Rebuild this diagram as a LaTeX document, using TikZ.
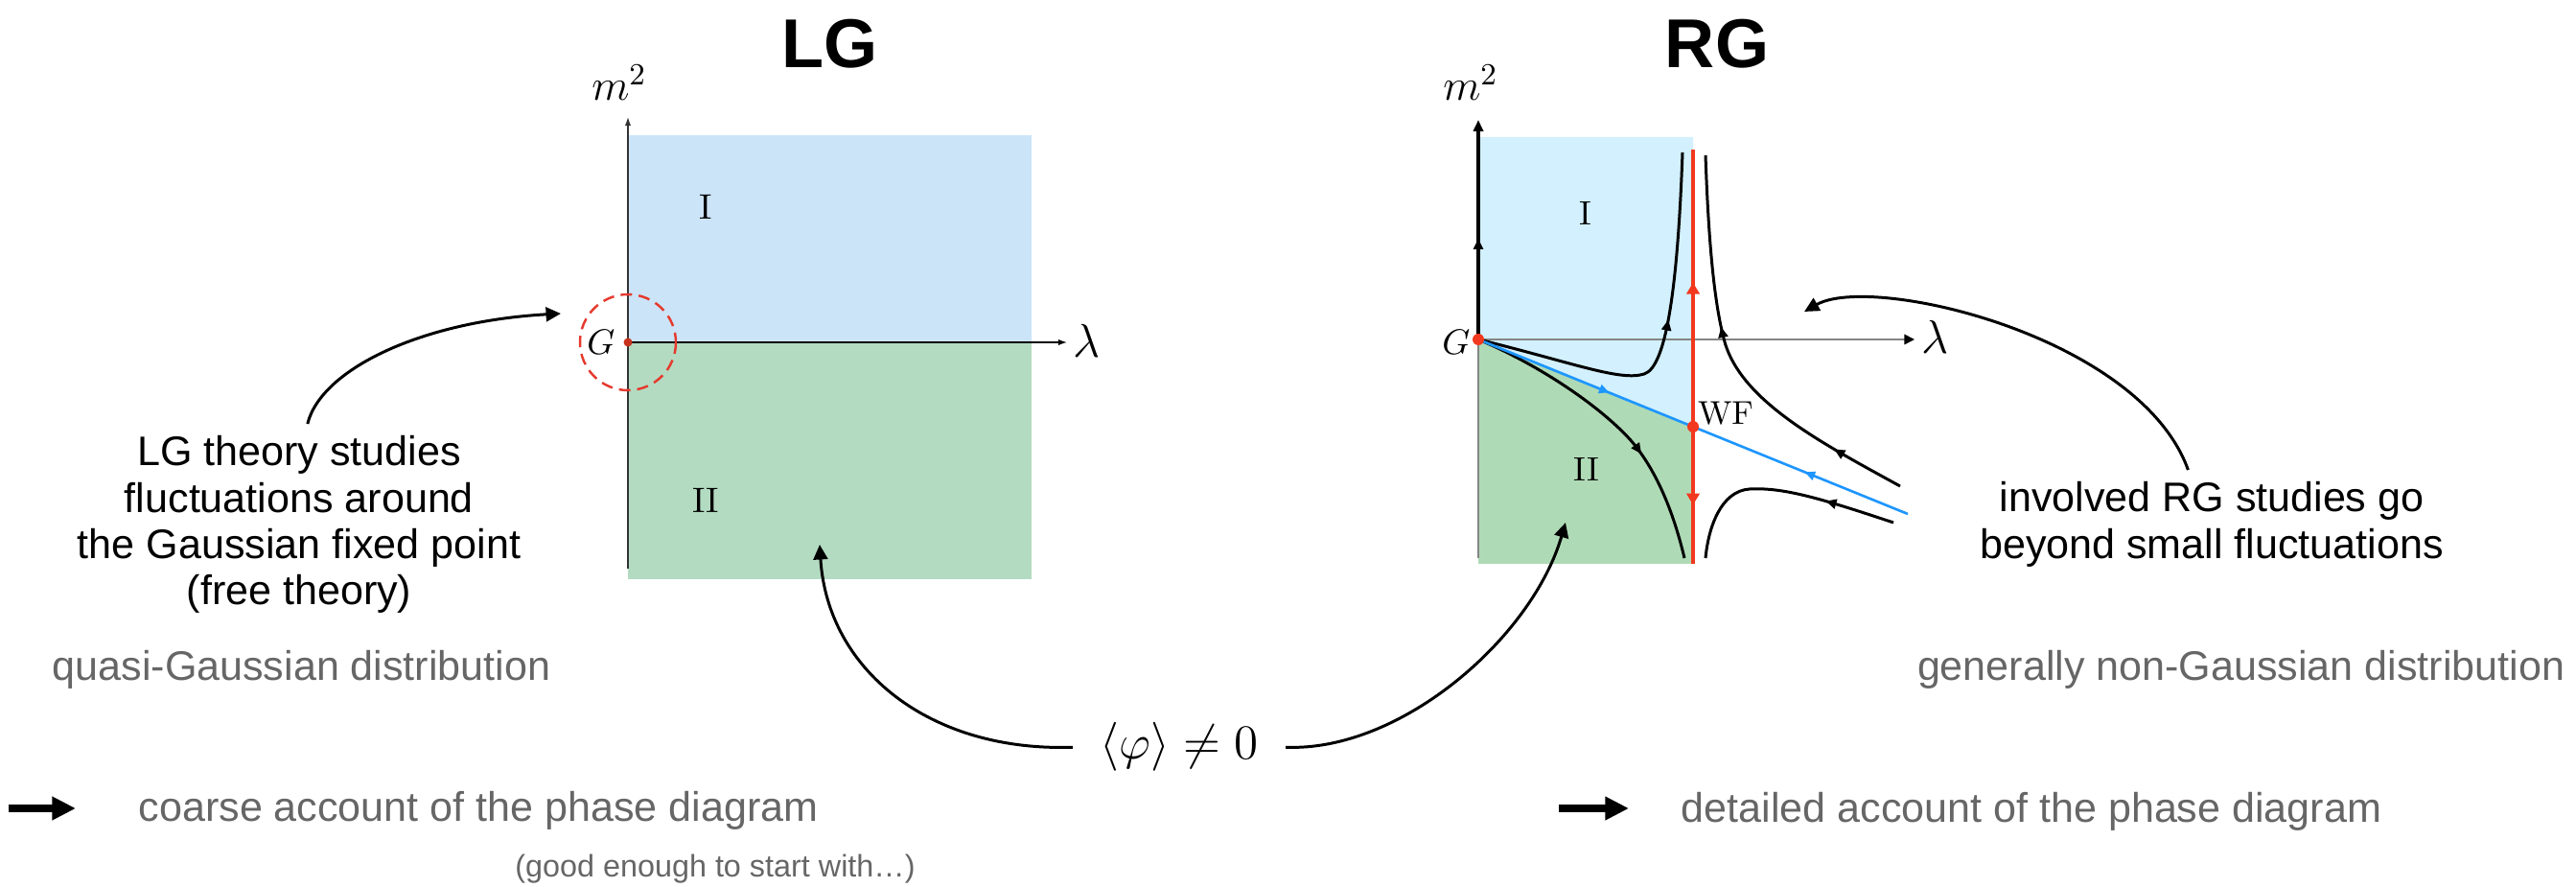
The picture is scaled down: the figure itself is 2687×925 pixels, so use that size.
\documentclass[tikz,border=0pt]{standalone}
\usepackage{fix-cm}
\usepackage{fontspec}
\newfontfamily\helv{Liberation Sans}
\usetikzlibrary{arrows.meta,decorations.markings}

\definecolor{lgblue}{HTML}{CCE4F8}
\definecolor{lggreen}{HTML}{B3DBC1}
\definecolor{rgblue}{HTML}{D2F0FD}
\definecolor{rggreen}{HTML}{AFDAB6}
\definecolor{flowred}{HTML}{F2381E}
\definecolor{dotred}{HTML}{C8321E}
\definecolor{circred}{HTML}{E53A2E}
\definecolor{sepblue}{HTML}{1E96FF}
\definecolor{textgray}{HTML}{666666}
\definecolor{axisgray}{HTML}{858585}

\begin{document}
\begin{tikzpicture}[x=0.01cm, y=-0.01cm,
    title/.style={font=\helv\bfseries\fontsize{20.5}{24}\selectfont,
                  anchor=base, inner sep=0pt},
    note/.style={font=\helv\fontsize{12.25}{13.75}\selectfont,
                 align=center, anchor=north, inner sep=0pt},
    remark/.style={font=\helv\fontsize{12.25}{13.75}\selectfont,
                   text=textgray, inner sep=0pt},
    lbl/.style={anchor=base, inner sep=0pt},
    dot/.style={circle, fill=#1, inner sep=0pt},
    arr/.style={-{Triangle[length=4.4pt,width=4.2pt]}, line width=0.85pt},
    bigarrow/.style={-{Triangle[length=7pt,width=6.6pt]}, line width=2pt},
    thinaxis/.style={line width=0.35pt, -{Latex[length=2.6pt,width=1.8pt]}},
    gcircle/.style={draw=circred, dash pattern=on 3.4pt off 2pt, line width=0.7pt},
    flow/.style={line width=0.85pt, postaction=decorate,
                 decoration={markings, mark=at position #1 with
                 {\arrow{Triangle[length=3.2pt,width=2.8pt]}}}},
    flowtwo/.style 2 args={line width=0.85pt, postaction=decorate,
                 decoration={markings,
                 mark=at position #1 with {\arrow{Triangle[length=3.2pt,width=2.8pt]}},
                 mark=at position #2 with {\arrow{Triangle[length=3.2pt,width=2.8pt]}}}},
    redflow/.style={draw=flowred, line width=1.2pt, postaction=decorate,
                 decoration={markings, mark=at position #1 with
                 {\arrow{Triangle[length=3.4pt,width=3.8pt]}}}},
    sepflow/.style={draw=sepblue, line width=0.75pt, postaction=decorate,
                 decoration={markings, mark=at position #1 with
                 {\arrow{Triangle[length=3pt,width=2.6pt]}}}}
]
  \useasboundingbox (0,0) rectangle (2687,925);

  % Titles
  \node[title] (lgtitle) at (866,71) {LG};
  \node[title] (rgtitle) at (1791,71) {RG};

  % LG phase diagram
  \fill[lgblue] (655,141) rectangle (1076,357);
  \fill[lggreen] (655,357) rectangle (1076,604);
  \draw[thinaxis, draw=black!80] (655,593) -- (655,122);
  \draw[thinaxis] (655,357) -- (1113,357);
  \draw[gcircle] (655,357) circle (50);
  \node[dot=dotred, minimum size=0.09cm] (lgG) at (655,357) {};
  \node[lbl, font=\fontsize{13}{15}\selectfont] (lgmass) at (646,105) {$m^2$};
  \node[lbl, font=\fontsize{14}{16}\selectfont] (lglam) at (1134,373) {$\lambda$};
  \node[lbl, font=\fontsize{10.5}{12}\selectfont] (lgGname) at (627,370) {$G$};
  \node[lbl, font=\fontsize{10.5}{12}\selectfont] (lgI) at (736,229) {I};
  \node[lbl, font=\fontsize{10.5}{12}\selectfont] (lgII) at (736,535) {II};

  % RG phase diagram
  \fill[rgblue] (1542,143) -- (1766,143) -- (1766,445) -- (1542,354) -- cycle;
  \fill[rggreen] (1542,354) -- (1766,445) -- (1766,588) -- (1542,588) -- cycle;
  \draw[axisgray, line width=0.45pt] (1542,354) -- (1542,582);
  \draw[axisgray, line width=0.45pt, -{Triangle[length=3pt,width=3pt,color=black]}]
       (1542,354) -- (1997,354);
  \draw[flow=0.46, line width=1pt, -{Triangle[length=3.4pt,width=2.9pt]}]
       (1542,354) -- (1542,125);

  % flow lines
  \draw[flow=0.58] (1542,354) .. controls (1640,378) and (1690,398) .. (1715,390)
       .. controls (1738,383) and (1750,300) .. (1755,159);
  \draw[flow=0.64] (1542,354) .. controls (1600,378) and (1665,420) .. (1700,458)
       .. controls (1730,492) and (1747,540) .. (1757,582);
  \draw[flowtwo={0.18}{0.59}] (1982,507) .. controls (1900,462) and (1820,420) .. (1800,360)
       .. controls (1788,320) and (1782,250) .. (1779,162);
  \draw[flow=0.3] (1975,545) .. controls (1900,520) and (1860,508) .. (1825,510)
       .. controls (1795,512) and (1782,550) .. (1779,582);

  % separatrix and critical line
  \coordinate (rgWFpt) at (1766,445);
  \draw[sepflow=0.61] (1542,354) -- (rgWFpt);
  \draw[sepflow=0.48] (1990,536) -- (rgWFpt);
  \draw[redflow=0.52] (rgWFpt) -- (1766,156);
  \draw[redflow=0.57] (rgWFpt) -- (1766,588);

  \node[dot=flowred, minimum size=0.12cm] (rgG) at (1542,354) {};
  \node[dot=flowred, minimum size=0.12cm] (rgWF) at (rgWFpt) {};
  \node[lbl, font=\fontsize{13}{15}\selectfont] (rgmass) at (1534,105) {$m^2$};
  \node[lbl, font=\fontsize{14}{16}\selectfont] (rglam) at (2019,369) {$\lambda$};
  \node[lbl, font=\fontsize{10.5}{12}\selectfont] (rgGname) at (1519,370) {$G$};
  \node[lbl, font=\fontsize{10}{12}\selectfont] (rgI) at (1654,235) {I};
  \node[lbl, font=\fontsize{10}{12}\selectfont] (rgII) at (1655,502) {II};
  \node[lbl, font=\fontsize{9.8}{12}\selectfont] (rgWFname) at (1800,443) {WF};

  % Annotations
  \node[note] (lgnote) at (312,454)
       {LG theory studies\\fluctuations around\\the Gaussian fixed point\\(free theory)};
  \node[note] (rgnote) at (2307,502)
       {involved RG studies go\\beyond small fluctuations};
  \coordinate (lgtip) at (585,327);
  \coordinate (rgtip) at (1882,325);
  \draw[arr] ([xshift=2.5pt,yshift=3.4pt]lgnote.north)
       .. controls +(14,-57) and +(-145,8) .. (lgtip);
  \draw[arr] ([xshift=-7pt,yshift=3.4pt]rgnote.north)
       .. controls +(-50,-140) and +(70,-40) .. (rgtip);

  % order parameter
  \node[lbl, inner xsep=8pt, font=\fontsize{14.5}{17}\selectfont] (phi) at (1230,792)
       {$\langle\varphi\rangle\neq 0$};
  \coordinate (lgphitip) at (855,568);
  \coordinate (rgphitip) at (1633,545);
  \draw[arr] (phi.west) .. controls +(-150,5) and +(8,130) .. (lgphitip);
  \draw[arr] (phi.east) .. controls +(120,5) and +(-35,120) .. (rgphitip);

  % Remarks
  \node[remark, anchor=base west] (lgdist) at (54,710) {quasi-Gaussian distribution};
  \node[remark, anchor=base east] (rgdist) at (2676,710) {generally non-Gaussian distribution};
  \coordinate (lgarrS) at (9,843);
  \coordinate (lgarrE) at (79,843);
  \coordinate (rgarrS) at (1626,843);
  \coordinate (rgarrE) at (1699,843);
  \draw[bigarrow] (lgarrS) -- (lgarrE);
  \draw[bigarrow] (rgarrS) -- (rgarrE);
  \node[remark, anchor=base west] (lgaccount) at (144,857) {coarse account of the phase diagram};
  \node[remark, anchor=base west] (rgaccount) at (1753,858) {detailed account of the phase diagram};
  \node[remark, anchor=base, font=\helv\fontsize{9.2}{11}\selectfont] (goodenough) at (746,915)
       {(good enough to start with…)};
\end{tikzpicture}
\end{document}
